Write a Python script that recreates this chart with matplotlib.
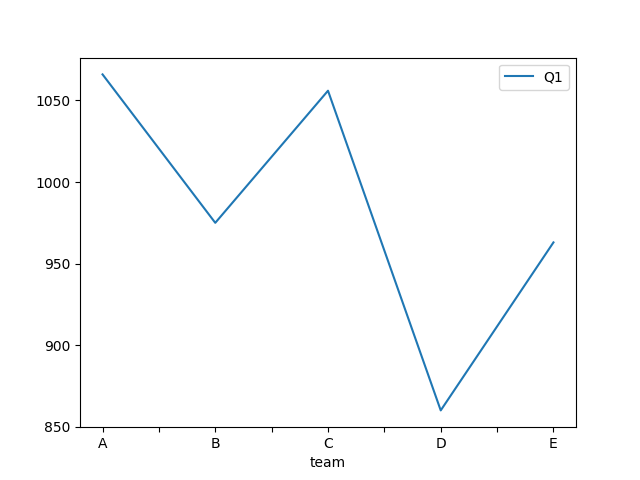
import pandas as pd
import matplotlib
matplotlib.use("Agg")
import matplotlib.pyplot as plt

teams = ['A', 'B', 'C', 'D', 'E']
q1 = [1066, 975, 1056, 860, 963]

df = pd.DataFrame({'team': teams, 'Q1': q1})

fig, ax = plt.subplots(figsize=(6.4, 4.8), dpi=100)
ax.plot(range(len(teams)), df['Q1'], label='Q1')
ax.set_xticks([i * 0.5 for i in range(2 * len(teams) - 1)])
ax.set_xticklabels([t if i % 2 == 0 else '' for i, t in
                    enumerate([x for tm in teams for x in (tm, '')][:-1])])
ax.set_xlabel('team')
ax.legend(loc='upper right')
fig.savefig('out.png')
